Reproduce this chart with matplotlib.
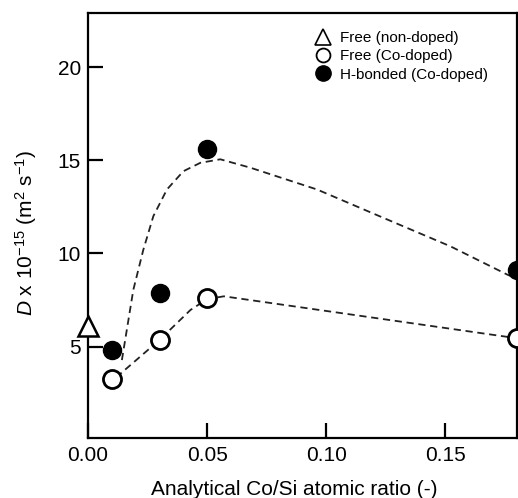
import matplotlib
matplotlib.use("Agg")
import matplotlib.pyplot as plt
from matplotlib.lines import Line2D

plt.rcParams['font.family'] = ['Liberation Sans', 'DejaVu Sans']
plt.rcParams['mathtext.fontset'] = 'custom'
plt.rcParams['mathtext.rm'] = 'Liberation Sans'
plt.rcParams['mathtext.it'] = 'Liberation Sans:italic'

# Data
ratio_nondoped = [0.0]
D_free_nondoped = [6.1]

ratio_doped = [0.01, 0.03, 0.05, 0.18]
D_free_doped = [3.25, 5.36, 7.6, 5.45]
D_hbond_doped = [4.82, 7.9, 15.6, 9.12]

# Dashed guide curves
guide_h_x = [0.0142, 0.0190, 0.0232, 0.0274, 0.0331, 0.0400, 0.0471, 0.0555,
             0.0681, 0.0961, 0.1241, 0.1521, 0.176, 0.18]
guide_h_y = [4.28, 8.05, 10.2, 12.0, 13.43, 14.41, 14.86, 15.05,
             14.6, 13.43, 11.9, 10.38, 8.86, 8.65]
guide_f_x = [0.0118, 0.03, 0.043, 0.050, 0.057, 0.18]
guide_f_y = [3.35, 5.36, 6.97, 7.55, 7.7, 5.45]

xticks = [0.00, 0.05, 0.10, 0.15]
yticks = [5, 10, 15, 20]

fig = plt.figure(figsize=(5.18, 4.98), dpi=100)
ax = fig.add_axes([0.170, 0.1205, 0.828, 0.8535])

ax.plot(guide_h_x, guide_h_y, ls=(0, (4, 2.6)), color='#222222', lw=1.3, zorder=2)
ax.plot(guide_f_x, guide_f_y, ls=(0, (4, 2.6)), color='#222222', lw=1.3, zorder=2)

ax.plot(ratio_doped, D_hbond_doped, 'o', ms=13, mfc='black', mec='black', zorder=3)
ax.plot(ratio_doped, D_free_doped, 'o', ms=13, mfc='white', mec='black', mew=2, zorder=3)
ax.plot(ratio_nondoped, D_free_nondoped, '^', ms=15, mfc='white', mec='black', mew=1.8,
        zorder=4, clip_on=False)

ax.set_xlim(0, 0.18)
ax.set_ylim(0.1, 22.9)
ax.set_xticks(xticks)
ax.set_xticklabels(['%.2f' % t for t in xticks])
ax.set_yticks(yticks)

ax.tick_params(axis='both', direction='in', length=11, width=1.6, labelsize=15)
ax.tick_params(axis='x', pad=6)
ax.tick_params(axis='y', pad=5)
for s in ax.spines.values():
    s.set_linewidth(1.6)

ax.set_xlabel('Analytical Co/Si atomic ratio (-)', fontsize=15)
ax.xaxis.set_label_coords(0.480, -0.099)
ax.set_ylabel(r'$\mathit{D}$ x 10$^{-15}$ (m$^{2}$ s$^{-1}$)', fontsize=15)
ax.yaxis.set_label_coords(-0.114, 0.482)

handles = [
    Line2D([], [], ls='none', marker='^', ms=11, mfc='white', mec='black', mew=1.2),
    Line2D([], [], ls='none', marker='o', ms=10, mfc='white', mec='black', mew=1.3),
    Line2D([], [], ls='none', marker='o', ms=11, mfc='black', mec='black'),
]
labels = ['Free (non-doped)', 'Free (Co-doped)', 'H-bonded (Co-doped)']
ax.legend(handles, labels, loc='upper right', bbox_to_anchor=(0.965, 0.99), frameon=False,
          fontsize=11, handlelength=0.8, handletextpad=0.7, labelspacing=0.28)

fig.savefig('out.png', dpi=100)
